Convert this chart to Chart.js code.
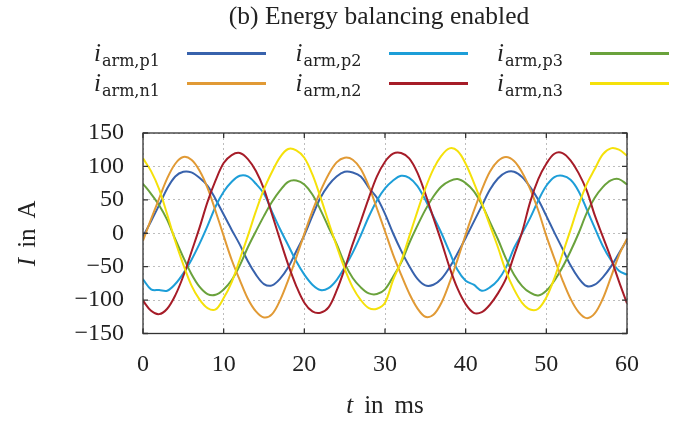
<!DOCTYPE html>
<html>
<head>
<meta charset="utf-8">
<script src="https://cdn.jsdelivr.net/npm/chart.js@4.4.1/dist/chart.umd.min.js"></script>
<style>
  html, body { margin: 0; padding: 0; background: #fff; }
  #wrap { position: relative; width: 696px; height: 421px; }
  #grafica { position: absolute; left: 0; top: 0; }
  .ley-item { position: absolute; height: 30px; font-family: 'Liberation Serif', serif; color: #222; }
  .ley-texto { position: absolute; left: 0; top: 0; font-size: 25px; line-height: 30px; white-space: nowrap; }
  .ley-texto sub { font-family: 'DejaVu Serif', serif; font-size: 16px; vertical-align: -4.5px; line-height: 0; font-style: normal; margin-left: 1px; }
  .ley-linea { position: absolute; left: 93px; top: 14px; width: 79px; height: 2.5px; }
</style>
</head>
<body>
<div id="wrap">
  <canvas id="grafica" width="696" height="421"></canvas>
  <div id="leyenda"></div>
</div>
<script>
// Datos (corriente de brazo en A, cada 1 ms)
const tiempoMs = [0,1,2,3,4,5,6,7,8,9,10,11,12,13,14,15,16,17,18,19,20,21,22,23,24,25,26,27,28,29,30,
                  31,32,33,34,35,36,37,38,39,40,41,42,43,44,45,46,47,48,49,50,51,52,53,54,55,56,57,58,59,60];

const iArmP1 = [-5,18,42,67,85,92,91,83,71,51,28,5,-17,-42,-62,-76,-78,-68,-51,-27,-3,
                26,53,72,85,92,91,85,68,53,29,0,-26,-49,-68,-78,-77,-68,-51,-30,-7,
                17,41,65,82,91,92,84,69,50,26,1,-23,-48,-67,-79,-77,-66,-50,-30,-10];
const iArmP2 = [-69,-84,-85,-86,-76,-60,-40,-16,11,40,62,77,86,85,74,59,32,6,-18,-42,-62,
                -77,-85,-82,-70,-51,-29,-3,25,49,67,79,86,83,71,50,25,0,-28,-55,-71,
                -77,-86,-81,-70,-51,-22,0,23,49,71,84,86,80,63,36,8,-19,-40,-56,-62];
const iArmP3 = [74,59,42,20,-9,-36,-61,-80,-91,-92,-84,-70,-48,-21,3,26,47,64,77,79,73,
                58,35,9,-16,-45,-67,-81,-90,-91,-84,-65,-44,-15,11,35,55,70,78,81,75,
                63,43,17,-9,-38,-62,-79,-89,-93,-86,-71,-51,-27,0,30,53,69,79,81,73];
const iArmN1 = [-11,21,52,82,104,114,110,94,68,33,-4,-40,-70,-98,-117,-126,-121,-100,-70,-36,-1,
                33,63,88,106,113,110,96,70,37,3,-32,-62,-90,-112,-125,-122,-104,-74,-39,-2,
                33,65,92,108,114,108,91,66,34,-4,-38,-70,-98,-118,-127,-120,-98,-66,-33,-8];
const iArmN2 = [-101,-116,-121,-113,-93,-64,-28,8,47,79,105,117,120,111,93,66,28,-10,-47,-79,-104,
                -117,-119,-111,-86,-53,-16,18,53,85,107,119,120,112,91,59,23,-13,-51,-83,-106,
                -119,-118,-107,-90,-68,-33,2,47,81,104,119,120,109,90,64,27,-5,-37,-72,-105];
const iArmN3 = [112,93,66,28,-12,-47,-78,-99,-112,-114,-97,-73,-39,-4,33,66,92,114,126,124,113,
                88,54,17,-19,-53,-81,-100,-112,-113,-104,-70,-42,-5,32,67,96,116,127,123,104,
                76,45,12,-21,-57,-84,-104,-114,-113,-96,-67,-31,5,42,73,96,118,127,125,116];

const nombresSeries = ['p1', 'p2', 'p3', 'n1', 'n2', 'n3'];
const valoresSeries = [iArmP1, iArmP2, iArmP3, iArmN1, iArmN2, iArmN3];
const coloresSeries = ['#3862ac', '#1d9ed8', '#6aa23c', '#e19a35', '#a61c28', '#f5e10a'];

const tituloGrafica = '(b) Energy balancing enabled';
const fuenteSerif = "'Liberation Serif', 'Times New Roman', serif";

// Leyenda en HTML: fila 1 = p1..p3, fila 2 = n1..n3
const leyenda = document.getElementById('leyenda');
nombresSeries.forEach((nombre, i) => {
    const col = i % 3;
    const fila = Math.floor(i / 3);
    const item = document.createElement('div');
    item.className = 'ley-item';
    item.style.left = (94 + 201.5 * col) + 'px';
    item.style.top = (38 + 30 * fila) + 'px';
    item.innerHTML = `<span class="ley-texto"><i>i</i><sub>arm,${nombre}</sub></span>
                      <span class="ley-linea" style="background:${coloresSeries[i]}"></span>`;
    leyenda.appendChild(item);
});

// Texto con partes en cursiva y normal, centrado; los espacios van como huecos fijos
function textoMixto(ctx, partes, cx, baseY, size, hueco) {
    let total = 0;
    partes.forEach((p, k) => {
        ctx.font = `${p.italic ? 'italic ' : ''}${size}px ${fuenteSerif}`;
        p.w = ctx.measureText(p.t).width;
        total += p.w + (k > 0 ? hueco : 0);
    });
    let x = cx - total / 2;
    ctx.textAlign = 'left';
    ctx.textBaseline = 'alphabetic';
    partes.forEach((p, k) => {
        if (k > 0) x += hueco;
        ctx.font = `${p.italic ? 'italic ' : ''}${size}px ${fuenteSerif}`;
        ctx.fillText(p.t, x, baseY);
        x += p.w;
    });
}

// Marco, marcas hacia adentro, titulo y titulos de ejes
const pluginMarco = {
    id: 'marco',
    afterDraw(chart) {
        const { ctx, chartArea: a, scales } = chart;
        ctx.save();
        ctx.strokeStyle = '#333';
        ctx.lineWidth = 1.3;
        ctx.strokeRect(a.left, a.top, a.right - a.left, a.bottom - a.top);
        ctx.beginPath();
        scales.x.ticks.forEach(t => {
            const px = scales.x.getPixelForValue(t.value);
            ctx.moveTo(px, a.bottom); ctx.lineTo(px, a.bottom - 5);
            ctx.moveTo(px, a.top); ctx.lineTo(px, a.top + 5);
        });
        scales.y.ticks.forEach(t => {
            const py = scales.y.getPixelForValue(t.value);
            ctx.moveTo(a.left, py); ctx.lineTo(a.left + 5, py);
            ctx.moveTo(a.right, py); ctx.lineTo(a.right - 5, py);
        });
        ctx.stroke();

        ctx.fillStyle = '#222';
        ctx.font = `25.5px ${fuenteSerif}`;
        ctx.textAlign = 'center';
        ctx.textBaseline = 'alphabetic';
        ctx.fillText(tituloGrafica, 379, 24);

        textoMixto(ctx, [{ t: 't', italic: true }, { t: 'in' }, { t: 'ms' }], (a.left + a.right) / 2, 413, 25, 11);
        ctx.translate(35, (a.top + a.bottom) / 2);
        ctx.rotate(-Math.PI / 2);
        textoMixto(ctx, [{ t: 'I', italic: true }, { t: 'in' }, { t: 'A' }], 0, 0, 25, 10);
        ctx.restore();
    }
};

new Chart(document.getElementById('grafica'), {
    type: 'line',
    data: {
        datasets: valoresSeries.map((serie, i) => ({
            label: 'i_arm,' + nombresSeries[i],
            data: serie.map((v, k) => ({ x: tiempoMs[k], y: v })),
            borderColor: coloresSeries[i],
            borderWidth: 2,
            pointRadius: 0,
            tension: 0.35,
            fill: false,
            order: nombresSeries.length - i
        }))
    },
    options: {
        responsive: false,
        animation: false,
        layout: { padding: { left: 0, right: 69, top: 133, bottom: 0 } },
        plugins: {
            legend: { display: false },
            tooltip: { enabled: false },
            title: { display: false }
        },
        scales: {
            x: {
                type: 'linear',
                min: 0,
                max: 60,
                afterFit: s => { s.height = 87.5; },
                ticks: {
                    stepSize: 10,
                    padding: 17,
                    color: '#222',
                    font: { family: fuenteSerif, size: 24 }
                },
                grid: { color: '#bdbdbd', lineWidth: 1, drawTicks: false },
                border: { display: false, dash: [2, 3] }
            },
            y: {
                min: -150,
                max: 150,
                afterFit: s => { s.width = 143; },
                ticks: {
                    stepSize: 50,
                    padding: 19,
                    color: '#222',
                    font: { family: fuenteSerif, size: 24 },
                    callback: v => (v < 0 ? '\u2212' + Math.abs(v) : String(v))
                },
                grid: { color: '#bdbdbd', lineWidth: 1, drawTicks: false },
                border: { display: false, dash: [2, 3] }
            }
        }
    },
    plugins: [pluginMarco]
});
</script>
</body>
</html>
